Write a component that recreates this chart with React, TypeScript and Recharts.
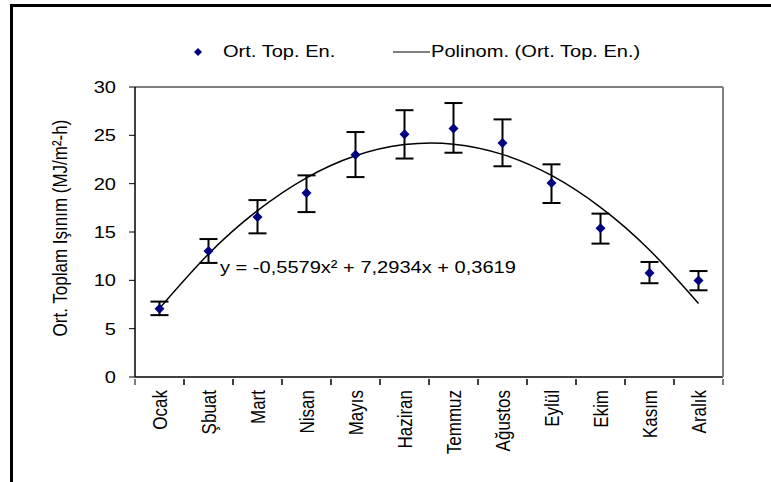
import React from "react";
import {
  ComposedChart,
  Line,
  XAxis,
  YAxis,
  ErrorBar,
} from "recharts";

// ─── Data ────────────────────────────────────────────────────────────────────

const months = [
  "Ocak", "Şbuat", "Mart", "Nisan", "Mayıs", "Haziran",
  "Temmuz", "Ağustos", "Eylül", "Ekim", "Kasım", "Aralık",
];
const avgValues = [7.07, 13.03, 16.55, 19.03, 23.0, 25.1, 25.7, 24.2, 20.06, 15.38, 10.76, 9.97];
const upperValues = [7.8, 14.27, 18.3, 20.86, 25.34, 27.6, 28.34, 26.65, 22.0, 16.9, 11.9, 10.96];
const lowerValues = [6.4, 11.8, 14.86, 17.06, 20.68, 22.6, 23.2, 21.8, 18.0, 13.8, 9.7, 8.97];
const trendValues = [7.1, 12.72, 17.21, 20.6, 22.88, 24.04, 24.09, 23.03, 20.85, 17.55, 13.14, 7.61];
const yTicks = [0, 5, 10, 15, 20, 25, 30];

const data = months.map((m, i) => ({
  month: m,
  avg: avgValues[i],
  err: [+(avgValues[i] - lowerValues[i]).toFixed(2), +(upperValues[i] - avgValues[i]).toFixed(2)],
  trend: trendValues[i],
}));

const FONT = "'Liberation Sans', Arial, sans-serif";
const FS = 17;
const SX = 1.18; // source text looks horizontally stretched
const NAVY = "#000080";
const HALF_BAND = 24.5;

// ─── Ticks / marks ───────────────────────────────────────────────────────────

function MonthTick(props: any) {
  const { x, y, payload } = props;
  return (
    <g>
      <line x1={x - HALF_BAND} x2={x - HALF_BAND} y1={y} y2={y + 6} stroke="#000" />
      <line x1={x + HALF_BAND} x2={x + HALF_BAND} y1={y} y2={y + 6} stroke="#000" />
      <text
        transform={`translate(${x},${y + 11}) scale(${SX},1) rotate(-90)`}
        textAnchor="end"
        dy="0.35em"
        fontSize={FS}
        fontFamily={FONT}
        fill="#000"
      >
        {payload.value}
      </text>
    </g>
  );
}

function ValueTick(props: any) {
  const { x, y, payload } = props;
  return (
    <text
      transform={`translate(${x},${y}) scale(${SX},1)`}
      textAnchor="end"
      dy="0.35em"
      fontSize={FS}
      fontFamily={FONT}
      fill="#000"
    >
      {payload.value}
    </text>
  );
}

function Diamond(props: any) {
  const { cx, cy, index } = props;
  const r = 5;
  return (
    <polygon
      key={`d-${index}`}
      points={`${cx},${cy - r} ${cx + r},${cy} ${cx},${cy + r} ${cx - r},${cy}`}
      fill={NAVY}
    />
  );
}

function ChartLegend() {
  const textStyle: React.CSSProperties = {
    position: "absolute",
    top: 0,
    fontSize: FS,
    fontFamily: FONT,
    lineHeight: "20px",
    transform: `scaleX(${SX})`,
    transformOrigin: "left center",
    whiteSpace: "nowrap",
  };
  return (
    <div style={{ position: "absolute", left: 0, top: 42, width: 771, height: 20 }}>
      <svg style={{ position: "absolute", left: 0, top: 0 }} width={771} height={20}>
        <polygon points="198,6 202,10 198,14 194,10" fill={NAVY} />
        <line x1={393} x2={430} y1={10} y2={10} stroke="#000" strokeWidth={1.2} />
      </svg>
      <span style={{ ...textStyle, left: 223 }}>Ort. Top. En.</span>
      <span style={{ ...textStyle, left: 431 }}>Polinom. (Ort. Top. En.)</span>
    </div>
  );
}

// ─── Main component ──────────────────────────────────────────────────────────

export default function App() {
  return (
    <div
      style={{
        position: "absolute",
        left: 0,
        top: 0,
        width: 771,
        height: 482,
        background: "#fff",
        overflow: "hidden",
      }}
    >
      {/* outer frame (top + left only) */}
      <div
        style={{
          position: "absolute",
          left: 10,
          top: 4,
          width: 800,
          height: 500,
          borderTop: "3px solid #000",
          borderLeft: "3px solid #000",
        }}
      />

      <ComposedChart
        width={771}
        height={482}
        data={data}
        margin={{ top: 86, right: 47, bottom: 0, left: 0 }}
        style={{ position: "absolute", left: 0, top: 0 }}
      >
        <XAxis
          dataKey="month"
          xAxisId="bottom"
          scale="band"
          height={105}
          axisLine={{ stroke: "#000", strokeWidth: 1.5 }}
          tickLine={false}
          tickSize={0}
          tick={<MonthTick />}
          interval={0}
        />
        <XAxis
          dataKey="month"
          xAxisId="top"
          orientation="top"
          scale="band"
          height={1}
          axisLine={{ stroke: "#808080", strokeWidth: 2 }}
          tick={false}
          tickLine={false}
        />
        <YAxis
          yAxisId="left"
          width={135}
          domain={[0, 30]}
          ticks={yTicks}
          axisLine={{ stroke: "#000", strokeWidth: 1.5 }}
          tickLine={{ stroke: "#000" }}
          tickSize={6}
          tickMargin={13}
          tick={<ValueTick />}
        />
        <YAxis
          yAxisId="right"
          orientation="right"
          width={1}
          domain={[0, 30]}
          axisLine={{ stroke: "#808080", strokeWidth: 2 }}
          tick={false}
          tickLine={false}
        />
        <Line
          xAxisId="bottom"
          yAxisId="left"
          type="natural"
          dataKey="trend"
          stroke="#000"
          strokeWidth={1.5}
          dot={false}
          isAnimationActive={false}
        />
        <Line
          xAxisId="bottom"
          yAxisId="left"
          dataKey="avg"
          stroke="none"
          dot={<Diamond />}
          activeDot={false}
          isAnimationActive={false}
        >
          <ErrorBar
            dataKey="err"
            direction="y"
            width={9}
            stroke="#000"
            strokeWidth={2}
            isAnimationActive={false}
          />
        </Line>
      </ComposedChart>

      <ChartLegend />

      {/* axis title and trendline equation */}
      <svg
        width={771}
        height={482}
        style={{ position: "absolute", left: 0, top: 0, pointerEvents: "none" }}
      >
        <text
          transform={`translate(60,228) scale(${SX},1) rotate(-90)`}
          textAnchor="middle"
          dy="0.35em"
          fontSize={FS}
          fontFamily={FONT}
          fill="#000"
        >
          Ort. Toplam Işınım (MJ/m²-h)
        </text>
        <text
          transform={`translate(220,267) scale(${SX},1)`}
          dy="0.35em"
          fontSize={FS}
          fontFamily={FONT}
          fill="#000"
        >
          y = -0,5579x² + 7,2934x + 0,3619
        </text>
      </svg>
    </div>
  );
}
